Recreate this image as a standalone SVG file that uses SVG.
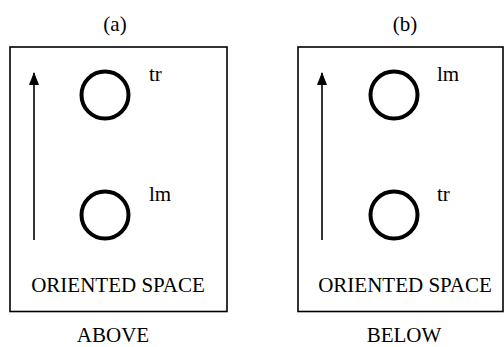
<svg xmlns="http://www.w3.org/2000/svg" width="504" height="347" viewBox="0 0 504 347">
<defs>
<style>
.box{fill:none;stroke:#000;stroke-width:1.6}
.c{fill:none;stroke:#000;stroke-width:4}
.ax{stroke:#000;stroke-width:1.6;fill:none}
.t{font-family:"Liberation Serif","Times New Roman",serif;font-size:21px;fill:#000}
.m{text-anchor:middle}
</style>
<marker id="ah" markerWidth="14" markerHeight="10" refX="12" refY="5" orient="auto" markerUnits="userSpaceOnUse" viewBox="0 0 14 10">
<path d="M0 0 L13 5 L0 10 Z" fill="#000"/>
</marker>
</defs>
<rect width="504" height="347" fill="#fff"/>
<g id="panel-a">
<text class="t m" x="115" y="31">(a)</text>
<rect class="box" x="10" y="47" width="217" height="264.5"/>
<text class="t m" x="118" y="291.5">ORIENTED SPACE</text>
<text class="t m" x="113" y="342">ABOVE</text>
</g>
<g id="panel-b">
<text class="t m" x="405" y="31">(b)</text>
<rect class="box" x="298" y="47" width="205" height="264.5"/>
<text class="t m" x="405" y="291.5">ORIENTED SPACE</text>
<text class="t m" x="404" y="342">BELOW</text>
</g>
<g id="node-a-tr"><circle class="c" cx="105" cy="95" r="23.5"/><text class="t" x="149" y="81">tr</text></g>
<g id="node-a-lm"><circle class="c" cx="105" cy="215" r="23.5"/><text class="t" x="149" y="201">lm</text></g>
<g id="node-b-lm"><circle class="c" cx="394" cy="95" r="23.5"/><text class="t" x="437" y="81">lm</text></g>
<g id="node-b-tr"><circle class="c" cx="394" cy="215" r="23.5"/><text class="t" x="437" y="201">tr</text></g>
<g id="connectors">
<line class="ax" x1="34" y1="240" x2="34" y2="73" marker-end="url(#ah)"/>
<line class="ax" x1="322" y1="240" x2="322" y2="73" marker-end="url(#ah)"/>
</g>
</svg>
